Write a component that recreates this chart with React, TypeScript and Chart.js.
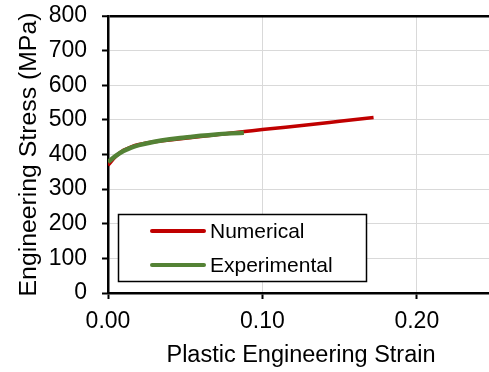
import React, { useEffect, useRef } from "react";
import { Chart, registerables } from "chart.js";

Chart.register(...registerables);

const numericalStrain = [0, 0.005, 0.01, 0.015, 0.02, 0.03, 0.04, 0.05, 0.06, 0.07, 0.08, 0.09, 0.1, 0.13, 0.15, 0.172];
const numericalStress = [369, 394, 412, 422, 429, 437, 442, 447, 452, 457, 462, 467, 472, 486, 496, 507];

const experimentalStrain = [0, 0.005, 0.01, 0.015, 0.02, 0.03, 0.04, 0.05, 0.06, 0.07, 0.08, 0.088];
const experimentalStress = [378, 396, 410, 420, 427, 437, 444, 449, 454, 458, 461, 463];

const seriesLabels = ["Numerical", "Experimental"];
const seriesColors = ["#C00000", "#548235"];

const xTickValues = [0, 0.1, 0.2];
const yTickValues = [0, 100, 200, 300, 400, 500, 600, 700, 800];

const FONT = "'Liberation Sans', Arial, sans-serif";

const legendPlugin = {
  id: "insideLegend",
  afterDraw(chart: any) {
    const { ctx } = chart;
    const x0 = 118, y0 = 214, w = 248, h = 67;
    ctx.save();
    ctx.fillStyle = "#fff";
    ctx.fillRect(x0, y0, w, h);
    ctx.strokeStyle = "#000";
    ctx.lineWidth = 1.5;
    ctx.strokeRect(x0 + 0.5, y0 + 0.5, w, h);
    const rows = [231, 265];
    chart.data.datasets.forEach((ds: any, i: number) => {
      ctx.strokeStyle = ds.borderColor;
      ctx.lineWidth = 4;
      ctx.lineCap = "round";
      ctx.beginPath();
      ctx.moveTo(152, rows[i]);
      ctx.lineTo(204, rows[i]);
      ctx.stroke();
      ctx.fillStyle = "#000";
      ctx.font = `21px ${FONT}`;
      ctx.textBaseline = "middle";
      ctx.textAlign = "left";
      ctx.fillText(ds.label, 210, rows[i] + 1);
    });
    ctx.restore();
  },
};

export default function App() {
  const ref = useRef<HTMLCanvasElement | null>(null);
  useEffect(() => {
    if (!ref.current) return;
    const mk = (xs: number[], ys: number[]) => xs.map((x, i) => ({ x, y: ys[i] }));
    const chart = new Chart(ref.current, {
      type: "scatter",
      data: {
        datasets: [
          {
            label: seriesLabels[0],
            data: mk(numericalStrain, numericalStress),
            borderColor: seriesColors[0],
            backgroundColor: seriesColors[0],
            showLine: true,
            borderWidth: 3.5,
            pointRadius: 0,
            cubicInterpolationMode: "monotone",
            order: 2,
          },
          {
            label: seriesLabels[1],
            data: mk(experimentalStrain, experimentalStress),
            borderColor: seriesColors[1],
            backgroundColor: seriesColors[1],
            showLine: true,
            borderWidth: 4.5,
            pointRadius: 0,
            cubicInterpolationMode: "monotone",
            order: 1,
          },
        ],
      },
      options: {
        animation: false,
        responsive: false,
        devicePixelRatio: 1,
        layout: { padding: { top: 16, right: 0, left: 0, bottom: 0 } },
        plugins: { legend: { display: false }, tooltip: { enabled: false } },
        scales: {
          x: {
            type: "linear",
            min: 0,
            max: 0.25,
            afterBuildTicks: (s: any) => {
              s.ticks = xTickValues.map((v) => ({ value: v }));
            },
            afterFit: (s: any) => {
              s.height = 79;
              s.paddingLeft = 0;
              s.paddingRight = 0;
              s.paddingTop = 0;
              s.paddingBottom = 0;
            },
            ticks: {
              callback: (v: any) => Number(v).toFixed(2),
              font: { size: 23, family: FONT },
              color: "#000",
              padding: 9,
              maxRotation: 0,
            },
            grid: {
              color: "#d9d9d9",
              lineWidth: 1,
              tickColor: "#000",
              tickWidth: 2,
              tickLength: 6,
            },
            border: { color: "#000", width: 2.5 },
            title: {
              display: true,
              text: "Plastic Engineering Strain",
              font: { size: 23.5, family: FONT },
              color: "#000",
              padding: { top: 0, bottom: 2 },
            },
          },
          y: {
            type: "linear",
            min: 0,
            max: 800,
            afterBuildTicks: (s: any) => {
              s.ticks = yTickValues.map((v) => ({ value: v }));
            },
            afterFit: (s: any) => {
              s.width = 108;
              s.paddingTop = 0;
              s.paddingBottom = 0;
              s.paddingLeft = 0;
              s.paddingRight = 0;
            },
            ticks: {
              font: { size: 23, family: FONT },
              color: "#000",
              padding: 15,
            },
            grid: {
              color: (c: any) => (c.tick && c.tick.value === 800 ? "#000" : "#d9d9d9"),
              lineWidth: (c: any) => (c.tick && c.tick.value === 800 ? 2.5 : 1),
              tickColor: "#000",
              tickWidth: 2,
              tickLength: 6,
            },
            border: { color: "#000", width: 2.5 },
            title: {
              display: true,
              text: "Engineering Stress (MPa)",
              font: { size: 24.8, family: FONT },
              color: "#000",
              padding: { top: 14, bottom: 0 },
            },
          },
        },
      },
      plugins: [legendPlugin],
    });
    return () => chart.destroy();
  }, []);
  return (
    <div style={{ position: "fixed", left: 0, top: 0, width: 489, height: 372, overflow: "hidden", background: "#fff" }}>
      <canvas ref={ref} width={494} height={372} style={{ display: "block", width: 494, height: 372 }} />
    </div>
  );
}
